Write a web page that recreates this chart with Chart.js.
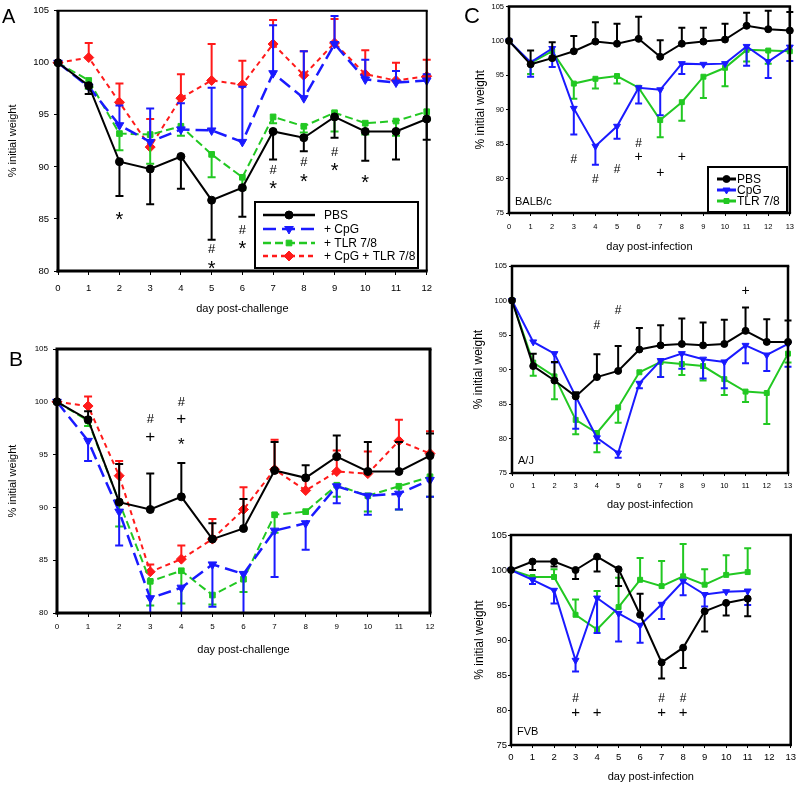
<!DOCTYPE html>
<html>
<head>
<meta charset="utf-8">
<script src="https://cdn.jsdelivr.net/npm/chart.js@4.4.1/dist/chart.umd.min.js"></script>
<style>
  body { margin: 0; background: #fff; width: 800px; height: 785px; position: relative; overflow: hidden;
         font-family: 'Liberation Sans', Arial, sans-serif; }
  canvas { position: absolute; }
  .letter { position: absolute; line-height: 1; color: #000; }
</style>
</head>
<body>
<canvas id="chartA" width="440" height="320" style="left:0;top:0"></canvas>
<canvas id="chartB" width="440" height="330" style="left:0;top:330px"></canvas>
<canvas id="chartC1" width="360" height="260" style="left:440px;top:0"></canvas>
<canvas id="chartC2" width="360" height="260" style="left:440px;top:255px"></canvas>
<canvas id="chartC3" width="360" height="265" style="left:440px;top:520px"></canvas>
<div class="letter" style="left:2px;top:6px;font-size:20px">A</div>
<div class="letter" style="left:9px;top:348px;font-size:21px">B</div>
<div class="letter" style="left:464px;top:5px;font-size:22px">C</div>
<script>
// ---- data ----
const daysAB = [0, 1, 2, 3, 4, 5, 6, 7, 8, 9, 10, 11, 12];
const daysC = [0, 1, 2, 3, 4, 5, 6, 7, 8, 9, 10, 11, 12, 13];
const seriesNamesAB = ['PBS', '+ CpG', '+ TLR 7/8', '+ CpG + TLR 7/8'];
const seriesNamesC = ['PBS', 'CpG', 'TLR 7/8'];
const yTicksAB = [80, 85, 90, 95, 100, 105];
const yTicksC = [75, 80, 85, 90, 95, 100, 105];

// A: day post-challenge ; err arrays = end of the (one-sided) error bar
const pbsA      = [100, 97.8, 90.5, 89.8, 91.0, 86.8, 88.0, 93.4, 92.8, 94.8, 93.4, 93.4, 94.6];
const pbsErrA   = [null, 97.0, 87.2, 86.4, 87.9, 83.0, 85.2, 90.7, 91.5, 92.8, 90.6, 90.7, 92.6];
const cpgA      = [100, 97.7, 94.0, 92.4, 93.6, 93.5, 92.4, 99.0, 96.6, 101.8, 98.4, 98.1, 98.3];
const cpgErrA   = [null, null, 95.9, 95.6, 96.1, 97.6, 97.7, 103.6, 101.1, 104.5, 100.3, 99.2, 98.9];
const tlrA      = [100, 98.3, 93.2, 93.1, 93.9, 91.2, 89.0, 94.8, 93.9, 95.2, 94.2, 94.4, 95.3];
const tlrErrA   = [null, 97.5, 91.6, 90.3, 93.0, 89.0, 87.8, 94.2, 93.3, 93.4, 93.1, 93.0, 94.5];
const bothA     = [100, 100.5, 96.2, 91.9, 96.6, 98.3, 97.9, 101.8, 98.8, 101.9, 98.9, 98.3, 98.7];
const bothErrA  = [null, 101.9, 98.0, 94.6, 98.9, 101.8, 100.2, 104.1, 101.1, 104.2, 101.2, 100.0, 100.3];
const marksA = [
  { x: 2, y: 85.4, t: '*' }, { x: 5, y: 82.1, t: '#' }, { x: 5, y: 80.7, t: '*' },
  { x: 6, y: 83.9, t: '#' }, { x: 6, y: 82.6, t: '*' }, { x: 7, y: 89.7, t: '#' },
  { x: 7, y: 88.4, t: '*' }, { x: 8, y: 90.4, t: '#' }, { x: 8, y: 89.1, t: '*' },
  { x: 9, y: 91.4, t: '#' }, { x: 9, y: 90.1, t: '*' }, { x: 10, y: 89.0, t: '*' }
];

// B
const pbsB      = [100, 98.3, 90.5, 89.8, 91.0, 87.0, 88.0, 93.5, 92.8, 94.8, 93.4, 93.4, 94.9];
const pbsErrB   = [null, 99.1, 94.1, 93.2, 94.2, 88.5, 90.8, 96.2, 94.0, 96.8, 96.2, 96.2, 97.0];
const cpgB      = [100, 96.3, 89.6, 81.4, 82.4, 84.6, 83.7, 87.8, 88.5, 92.0, 91.1, 91.3, 92.6];
const cpgErrB   = [null, 94.4, 86.4, 80.0, 80.0, 80.6, 80.0, 83.4, 86.0, 90.4, 89.3, 89.8, 91.0];
const tlrB      = [100, 98.2, 90.5, 83.0, 84.0, 81.7, 83.2, 89.3, 89.6, 92.1, 91.1, 92.0, 92.9];
const tlrErrB   = [null, 97.7, 88.2, 80.7, 80.9, 80.8, 82.0, 87.6, null, 91.0, 89.6, 89.8, 91.0];
const bothB     = [100, 99.6, 93.0, 83.9, 85.1, 87.0, 89.8, 93.6, 91.6, 93.4, 93.2, 96.3, 95.1];
const bothErrB  = [null, 100.5, 94.4, 84.6, 86.4, 88.9, 91.9, 96.4, 92.9, 95.4, 95.3, 98.3, 97.2];
const marksB = [
  { x: 3, y: 98.3, t: '#' }, { x: 3, y: 96.6, t: '+' },
  { x: 4, y: 99.9, t: '#' }, { x: 4, y: 98.3, t: '+' }, { x: 4, y: 96.4, t: '*' }
];

// C, BALB/c
const pbsC1     = [100, 96.6, 97.5, 98.5, 99.9, 99.6, 100.3, 97.7, 99.6, 99.9, 100.2, 102.2, 101.7, 101.5];
const pbsErrC1  = [null, 98.6, 99.8, 100.7, 102.7, 102.5, 103.5, 100.1, 101.9, 101.9, 102.5, 104.1, 104.4, 104.2];
const cpgC1     = [100, 96.9, 98.9, 90.2, 84.7, 87.6, 93.2, 92.9, 96.7, 96.6, 96.7, 99.2, 97.0, 99.1];
const cpgErrC1  = [null, 94.8, 96.2, 86.4, 82.0, 85.8, 90.9, 89.2, 95.2, null, null, 96.4, 94.6, 97.1];
const tlrC1     = [100, 96.8, 98.5, 93.8, 94.5, 94.9, 93.2, 88.5, 91.1, 94.8, 96.1, 98.7, 98.6, 98.5];
const tlrErrC1  = [null, 95.2, 97.3, 91.6, 93.1, 93.8, null, 86.0, 88.4, 91.7, 93.4, 97.0, 96.7, null];
const marksC1 = [
  { x: 3, y: 82.8, t: '#' }, { x: 4, y: 79.8, t: '#' }, { x: 5, y: 81.3, t: '#' },
  { x: 6, y: 85.0, t: '#' }, { x: 6, y: 83.1, t: '+' }, { x: 7, y: 80.8, t: '+' }, { x: 8, y: 83.1, t: '+' }
];

// C, A/J
const pbsC2     = [100, 90.5, 88.4, 86.1, 88.9, 89.8, 92.9, 93.5, 93.7, 93.5, 93.7, 95.6, 94.0, 94.0];
const pbsErrC2  = [null, 92.3, 91.1, 86.7, 92.2, 93.4, 96.0, 96.4, 97.4, 96.8, 97.2, 99.0, 97.3, 97.1];
const cpgC2     = [100, 94.0, 92.3, 86.1, 80.1, 77.9, 88.0, 91.3, 92.3, 91.5, 91.1, 93.5, 92.1, 93.7];
const cpgErrC2  = [null, null, 91.0, 81.4, 79.3, 77.2, 87.3, 88.9, 90.1, 88.7, 87.3, 90.9, 89.8, 90.4];
const tlrC2     = [100, 91.0, 89.0, 82.7, 80.8, 84.5, 89.6, 91.1, 90.8, 90.5, 88.6, 86.8, 86.6, 92.3];
const tlrErrC2  = [null, 89.1, 85.7, 80.6, 78.0, 82.3, null, 88.9, 89.2, 88.4, 86.3, 85.3, 82.1, 91.0];
const marksC2 = [{ x: 4, y: 96.3, t: '#' }, { x: 5, y: 98.5, t: '#' }, { x: 11, y: 101.4, t: '+' }];

// C, FVB (to day 11)
const pbsC3     = [100, 101.2, 101.2, 100.0, 101.9, 100.1, 93.6, 86.8, 88.9, 94.1, 95.3, 95.9];
const pbsErrC3  = [null, 100.0, 100.5, 98.7, 99.8, 97.7, 96.6, 84.5, 86.0, 91.2, 93.5, 93.4];
const cpgC3     = [100, 98.6, 97.1, 87.1, 96.0, 93.8, 92.1, 95.1, 98.4, 96.5, 96.9, 97.0];
const cpgErrC3  = [null, 98.0, 95.2, 85.5, 91.0, 89.8, 89.6, 93.0, 96.4, 94.8, null, 95.0];
const tlrC3     = [100, 99.0, 99.0, 93.6, 91.5, 94.7, 98.6, 97.7, 99.1, 97.9, 99.3, 99.7];
const tlrErrC3  = [null, null, 100.1, 95.8, 97.0, 98.9, 101.7, 101.3, 103.7, 100.1, 102.1, 103.1];
const marksC3 = [
  { x: 3, y: 81.6, t: '#' }, { x: 3, y: 79.6, t: '+' }, { x: 4, y: 79.6, t: '+' },
  { x: 7, y: 81.6, t: '#' }, { x: 7, y: 79.6, t: '+' }, { x: 8, y: 81.6, t: '#' }, { x: 8, y: 79.6, t: '+' }
];

// ---- styles ----
const FONT = "'Liberation Sans', Arial, sans-serif";
const BLACK = '#000000', BLUE = '#1a1aff', GREEN = '#22c822', RED = '#ff1a1a';

function look(color, style, radius, dash, width) {
  return {
    borderColor: color, backgroundColor: color, pointBackgroundColor: color, pointBorderColor: color,
    borderWidth: width, borderDash: dash, pointStyle: style, pointRadius: radius,
    pointRotation: style === 'triangle' ? 180 : 0, pointBorderWidth: 1, tension: 0, clip: false
  };
}
const looksAB = [
  look(BLACK, 'circle', 4, [], 2),
  look(BLUE, 'triangle', 5, [13, 6], 2.5),
  look(GREEN, 'rect', 4, [8, 4], 2),
  look(RED, 'rectRot', 5, [5, 4], 2)
];
const looksC = [
  look(BLACK, 'circle', 3.5, [], 2),
  look(BLUE, 'triangle', 4, [], 2),
  look(GREEN, 'rect', 3.5, [], 2)
];

function makeSets(names, looks, days, vals, errs) {
  return vals.map((v, k) => Object.assign({
    label: names[k],
    data: v.map((y, i) => ({ x: days[i], y: y })),
    errEnd: errs[k]
  }, looks[k]));
}

// ---- plugins ----
const errorBars = {
  id: 'errorBars',
  afterDatasetDraw(chart, args, opts) {
    const ds = chart.data.datasets[args.index];
    if (!ds.errEnd) return;
    const ctx = chart.ctx, ys = chart.scales.y;
    const cap = opts.cap || 4;
    ctx.save();
    ctx.strokeStyle = ds.borderColor;
    ctx.lineWidth = opts.width || 2;
    ctx.setLineDash([]);
    args.meta.data.forEach((pt, i) => {
      const e = ds.errEnd[i];
      if (e == null) return;
      const ye = ys.getPixelForValue(e);
      ctx.beginPath();
      ctx.moveTo(pt.x, pt.y);
      ctx.lineTo(pt.x, ye);
      ctx.moveTo(pt.x - cap, ye);
      ctx.lineTo(pt.x + cap, ye);
      ctx.stroke();
    });
    ctx.restore();
  }
};

const sigMarks = {
  id: 'sigMarks',
  afterDraw(chart, args, opts) {
    if (!opts.marks) return;
    const ctx = chart.ctx, xs = chart.scales.x, ys = chart.scales.y;
    ctx.save();
    ctx.fillStyle = '#000';
    ctx.textAlign = 'center';
    ctx.textBaseline = 'middle';
    opts.marks.forEach(m => {
      const size = m.t === '#' ? opts.hash : opts.sym;
      ctx.font = size + 'px ' + FONT;
      const dy = m.t === '*' ? size * 0.3 : 0;
      ctx.fillText(m.t, xs.getPixelForValue(m.x), ys.getPixelForValue(m.y) + dy);
    });
    if (opts.strain) {
      ctx.textAlign = 'left';
      ctx.font = '11px ' + FONT;
      ctx.fillText(opts.strain, chart.chartArea.left + 6, chart.chartArea.bottom - opts.strainDy);
    }
    ctx.restore();
  }
};

const frame = {
  id: 'frame',
  afterDraw(chart, args, o) {
    const ctx = chart.ctx, a = chart.chartArea;
    ctx.save();
    ctx.strokeStyle = '#000';
    ctx.setLineDash([]);
    const side = (w, x1, y1, x2, y2) => {
      ctx.lineWidth = w; ctx.beginPath(); ctx.moveTo(x1, y1); ctx.lineTo(x2, y2); ctx.stroke();
    };
    side(o.t, a.left - o.l / 2, a.top, a.right + o.r / 2, a.top);
    side(o.r, a.right, a.top, a.right, a.bottom);
    side(o.b, a.left - o.l / 2, a.bottom, a.right + o.r / 2, a.bottom);
    side(o.l, a.left, a.top, a.left, a.bottom + o.b / 2);
    ctx.restore();
  }
};

const boxLegend = {
  id: 'boxLegend',
  afterDraw(chart, args, o) {
    if (!o.box) return;
    const ctx = chart.ctx, [x1, y1, x2, y2] = o.box;
    ctx.save();
    ctx.fillStyle = '#fff';
    ctx.fillRect(x1, y1, x2 - x1, y2 - y1);
    ctx.strokeStyle = '#000';
    ctx.lineWidth = 2;
    ctx.strokeRect(x1, y1, x2 - x1, y2 - y1);
    chart.data.datasets.forEach((ds, k) => {
      const y = o.rows[k];
      ctx.strokeStyle = ds.borderColor;
      ctx.lineWidth = o.lineWidth;
      ctx.setLineDash(ds.borderDash || []);
      ctx.beginPath();
      ctx.moveTo(o.line[0], y);
      ctx.lineTo(o.line[1], y);
      ctx.stroke();
      ctx.setLineDash([]);
      ctx.fillStyle = ds.borderColor;
      ctx.lineWidth = 1;
      Chart.helpers.drawPoint(ctx, {
        pointStyle: ds.pointStyle, rotation: ds.pointRotation, radius: ds.pointRadius, borderWidth: 1
      }, (o.line[0] + o.line[1]) / 2, y);
      ctx.fillStyle = '#000';
      ctx.font = o.font + 'px ' + FONT;
      ctx.textAlign = 'left';
      ctx.textBaseline = 'middle';
      ctx.fillText(ds.label, o.textX, y + 1);
    });
    ctx.restore();
  }
};

// ---- chart builder ----
function makeChart(id, p) {
  const tickFont = { family: FONT, size: p.tickSize };
  return new Chart(document.getElementById(id), {
    type: 'line',
    data: { datasets: p.datasets },
    options: {
      responsive: false,
      animation: false,
      events: [],
      layout: { padding: { top: p.padTop, right: p.padRight, left: 0, bottom: 0 } },
      scales: {
        x: {
          type: 'linear', min: 0, max: p.xMax,
          afterFit(s) { s.height = p.xH; },
          ticks: { stepSize: 1, autoSkip: false, maxRotation: 0, font: tickFont, color: '#000', padding: p.xTickPad },
          grid: { drawOnChartArea: false, tickLength: p.tickLen, color: '#000' },
          border: { display: false },
          title: { display: true, text: p.xTitle, color: '#000', font: { family: FONT, size: 11 },
                   padding: { top: 0, bottom: p.xTitlePad } }
        },
        y: {
          min: p.yTicks[0], max: p.yTicks[p.yTicks.length - 1],
          afterFit(s) { s.width = p.yW; },
          afterBuildTicks(s) { s.ticks = p.yTicks.map(v => ({ value: v })); },
          ticks: { font: tickFont, color: '#000', padding: p.yTickPad },
          grid: { drawOnChartArea: false, tickLength: p.tickLen, color: '#000' },
          border: { display: false },
          title: { display: true, text: '% initial weight', color: '#000', font: { family: FONT, size: p.yTitleSize },
                   padding: { top: p.yTitlePad, bottom: 0 } }
        }
      },
      plugins: {
        legend: { display: false },
        tooltip: { enabled: false },
        errorBars: { width: 2, cap: p.cap },
        sigMarks: { marks: p.marks, hash: p.hash, sym: p.sym, strain: p.strain, strainDy: p.strainDy },
        frame: p.frame,
        boxLegend: p.legend || {}
      }
    },
    plugins: [errorBars, frame, sigMarks, boxLegend]
  });
}

makeChart('chartA', {
  datasets: makeSets(seriesNamesAB, looksAB, daysAB, [pbsA, cpgA, tlrA, bothA], [pbsErrA, cpgErrA, tlrErrA, bothErrA]),
  xMax: 12, yTicks: yTicksAB, xTitle: 'day post-challenge',
  padTop: 6, padRight: 11, yW: 58, xH: 49, tickSize: 9.5, tickLen: 4, xTickPad: 8, yTickPad: 5,
  xTitlePad: 4, yTitlePad: 6, yTitleSize: 11, cap: 4,
  marks: marksA, hash: 13, sym: 20,
  frame: { l: 3, b: 3, t: 2, r: 2 },
  legend: { box: [255, 202, 418, 268], rows: [215, 229, 243, 256], line: [263, 315], textX: 324, font: 12, lineWidth: 2.5 }
});

makeChart('chartB', {
  datasets: makeSets(seriesNamesAB, looksAB, daysAB, [pbsB, cpgB, tlrB, bothB], [pbsErrB, cpgErrB, tlrErrB, bothErrB]),
  xMax: 12, yTicks: yTicksAB, xTitle: 'day post-challenge',
  padTop: 19, padRight: 10, yW: 57, xH: 47, tickSize: 8, tickLen: 4, xTickPad: 5, yTickPad: 5,
  xTitlePad: 3.4, yTitlePad: 6, yTitleSize: 11, cap: 4,
  marks: marksB, hash: 13, sym: 17,
  frame: { l: 3, b: 3, t: 3, r: 3 }
});

makeChart('chartC1', {
  datasets: makeSets(seriesNamesC, looksC, daysC, [pbsC1, cpgC1, tlrC1], [pbsErrC1, cpgErrC1, tlrErrC1]),
  xMax: 13, yTicks: yTicksC, xTitle: 'day post-infection',
  padTop: 6, padRight: 9, yW: 69, xH: 47, tickSize: 7.5, tickLen: 3, xTickPad: 6, yTickPad: 2,
  xTitlePad: 6, yTitlePad: 33, yTitleSize: 12, cap: 3.5,
  marks: marksC1, hash: 12, sym: 14, strain: 'BALB/c', strainDy: 11,
  frame: { l: 2.5, b: 2.5, t: 2.5, r: 2.5 },
  legend: { box: [268, 167, 347, 212], rows: [179, 190, 201], line: [277, 296], textX: 297, font: 12, lineWidth: 3 }
});

makeChart('chartC2', {
  datasets: makeSets(seriesNamesC, looksC, daysC, [pbsC2, cpgC2, tlrC2], [pbsErrC2, cpgErrC2, tlrErrC2]),
  xMax: 13, yTicks: yTicksC, xTitle: 'day post-infection',
  padTop: 11, padRight: 12, yW: 72, xH: 42, tickSize: 7.5, tickLen: 3, xTickPad: 5, yTickPad: 2,
  xTitlePad: 3.4, yTitlePad: 31, yTitleSize: 12, cap: 3.5,
  marks: marksC2, hash: 12, sym: 14, strain: 'A/J', strainDy: 12,
  frame: { l: 2.5, b: 2.5, t: 2.5, r: 2.5 }
});

makeChart('chartC3', {
  datasets: makeSets(seriesNamesC, looksC, daysC, [pbsC3, cpgC3, tlrC3], [pbsErrC3, cpgErrC3, tlrErrC3]),
  xMax: 13, yTicks: yTicksC, xTitle: 'day post-infection',
  padTop: 15, padRight: 5, yW: 71, xH: 40, tickSize: 9.5, tickLen: 3, xTickPad: 4, yTickPad: 1,
  xTitlePad: 1.4, yTitlePad: 32, yTitleSize: 12, cap: 3.5,
  marks: marksC3, hash: 12, sym: 15, strain: 'FVB', strainDy: 13,
  frame: { l: 2.5, b: 2.5, t: 2.5, r: 2.5 }
});
</script>
</body>
</html>
